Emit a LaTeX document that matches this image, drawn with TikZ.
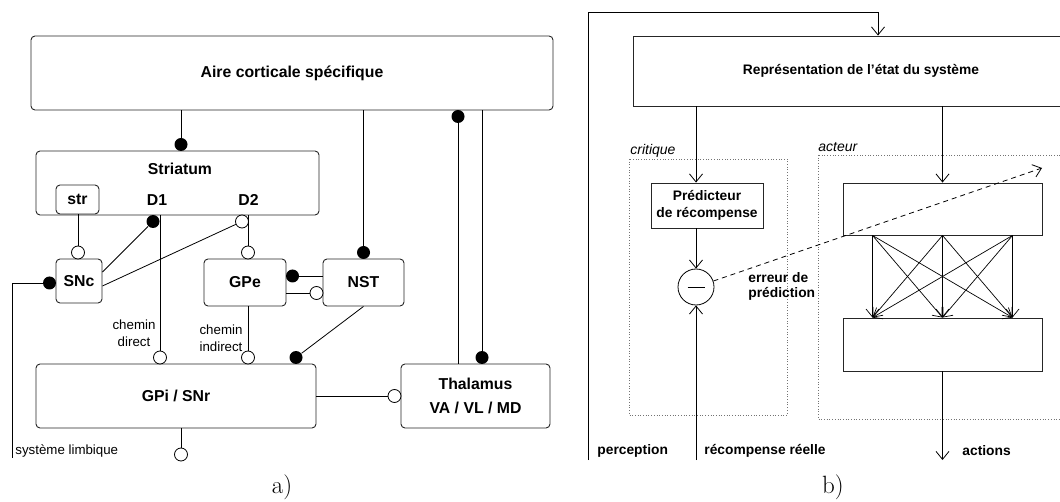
\documentclass[tikz,border=0pt]{standalone}
\usepackage{fontspec}
\setsansfont{Liberation Sans}
\usetikzlibrary{arrows.meta}
\begin{document}
\begin{tikzpicture}[x=1pt,y=-1pt,
  line width=0.8pt,
  rbox/.style={draw=black!85, line width=0.9pt, rounded corners=4pt, inner sep=0pt},
  sbox/.style={draw=black!85, line width=0.9pt, inner sep=0pt},
  fA/.style={font=\sffamily\bfseries\fontsize{15.8}{19}\selectfont},
  fAt/.style={font=\sffamily\bfseries\fontsize{15.8}{24}\selectfont},
  fR/.style={font=\sffamily\fontsize{13.3}{17}\selectfont},
  fB/.style={font=\sffamily\bfseries\fontsize{13.8}{16.5}\selectfont},
  fI/.style={font=\sffamily\itshape\fontsize{14}{16}\selectfont},
  fC/.style={font=\rmfamily\fontsize{25}{28}\selectfont},
  dmk/.style={circle, fill=black, minimum size=13pt, inner sep=0pt},
  omk/.style={circle, draw=black, fill=white, line width=0.8pt, minimum size=13pt, inner sep=0pt},
  arr/.style={-{Straight Barb[length=8pt,width=13pt]}},
  dotbox/.style={draw=black!55, dotted, line width=0.7pt},
]
\useasboundingbox (0,0) rectangle (1060,502);
\clip (0,0) rectangle (1060,502);

% ---------------- panel a ----------------
\node[rbox, fA, minimum width=522pt, minimum height=74pt] (aire) at (292,73) {Aire corticale spécifique};
\node[rbox, minimum width=283pt, minimum height=64pt] (stri) at (177.5,183) {};
\node[fA] (stritxt) at (180,169) {Striatum};
\node[rbox, fA, minimum width=43pt, minimum height=29pt] (str) at (77.5,199.5) {str};
\node[fA] (d1) at (157,200) {D1};
\node[fA] (d2) at (248.5,200) {D2};
\node[rbox, fA, minimum width=46pt, minimum height=44pt] (snc) at (79,281) {SNc};
\node[rbox, fA, minimum width=82pt, minimum height=47pt] (gpe) at (245,282.5) {GPe};
\node[rbox, fA, minimum width=81pt, minimum height=47pt] (nst) at (363.5,282.5) {NST};
\node[rbox, fA, minimum width=280pt, minimum height=64pt] (gpi) at (176,396) {GPi / SNr};
\node[rbox, fAt, align=center, minimum width=149pt, minimum height=64pt] (thal) at (475.5,396) {Thalamus\\VA / VL / MD};

% markers
\node[dmk] (m1) at (181,144.5) {};
\node[omk] (m2) at (78,252.5) {};
\node[dmk] (m3) at (153,221.5) {};
\node[omk] (m4) at (242,221.5) {};
\node[omk] (m5) at (160,357.5) {};
\node[omk] (m6) at (248,252.5) {};
\node[dmk] (m7) at (363.5,252.5) {};
\node[dmk] (m8) at (292.5,276) {};
\node[omk] (m9) at (316.5,293) {};
\node[omk] (m10) at (248,357.5) {};
\node[dmk] (m11) at (296,357.5) {};
\node[dmk] (m12) at (458,116.5) {};
\node[dmk] (m13) at (482,357.5) {};
\node[omk] (m14) at (394.5,396) {};
\node[omk] (m15) at (181,454.5) {};
\node[dmk] (m16) at (49.5,283) {};
\coordinate (limb) at (12,458);

% connectors
\draw (aire.south -| m1) -- (m1);
\draw (str.south -| m2) -- (m2);
\draw ([yshift=9pt]snc.east) -- (m3);
\draw ([yshift=-5pt]snc.east) -- (m4);
\draw (stri.south -| m5) -- (m5);
\draw (stri.south -| m6) -- (m6);
\draw (aire.south -| m7) -- (m7);
\draw (m8) -- (m8 -| nst.west);
\draw (m9 -| gpe.east) -- (m9);
\draw (gpe.south -| m10) -- (m10);
\draw (nst.south) -- (m11);
\draw (m12) -- (m12 |- thal.north);
\draw (aire.south -| m13) -- (m13);
\draw (gpi.east) -- (m14);
\draw (gpi.south -| m15) -- (m15);
\draw (m16) -| (limb);

% labels
\node[fR, align=center] (chd) at (134,333) {chemin\\direct};
\node[fR, align=center] (chi) at (221,338) {chemin\\indirect};
\node[fR, anchor=west, inner sep=0pt] (lim) at (15,451) {système limbique};
\node[fC] (capa) at (282,487) {a)};

% ---------------- panel b ----------------
\node[sbox, fB, minimum width=456pt, minimum height=70pt] (rep) at (861,71) {Représentation de l’état du système};
\draw[dotbox] (629,159) rectangle (787,415);
\draw[dotbox] (818,155) rectangle (1080,419);
\node[fI, anchor=west, inner sep=0pt] (crit) at (630,151) {critique};
\node[fI, anchor=west, inner sep=0pt] (act) at (818,147) {acteur};
\node[sbox, fB, align=center, minimum width=112pt, minimum height=45pt] (pred) at (707,205.5) {Prédicteur\\de récompense};
\node[circle, draw=black, line width=0.8pt, minimum size=36pt, inner sep=0pt] (circ) at (696,287) {};
\draw ([xshift=-8.5pt]circ.center) -- ([xshift=8.5pt]circ.center);
\node[sbox, minimum width=199pt, minimum height=52pt] (act1) at (942.5,209) {};
\node[sbox, minimum width=199pt, minimum height=53pt] (act2) at (942.5,344.5) {};

\coordinate (p0) at (588,460);
\coordinate (fb) at (878,12);
\coordinate (rew) at (696,460);
\coordinate (aend) at (942.5,460);
\coordinate (dend) at (1042,168);

\draw[arr] (p0) |- (fb) -- (fb |- rep.north);
\draw[arr] (rep.south -| circ) -- (pred.north -| circ);
\draw[arr] (pred.south -| circ) -- (circ.north);
\draw[arr] (rew) -- (circ.south);
\draw[arr] (rep.south -| act1) -- (act1.north);
\foreach \a in {-70,0,70} {
  \foreach \b in {-70,0,70} {
    \draw[arr, line width=0.7pt] ([xshift=\a pt]act1.south) -- ([xshift=\b pt]act2.north);
  }
}
\draw[arr] (act2.south) -- (aend);
\draw[arr, dash pattern=on 5pt off 4pt] (circ) -- (dend);

\node[fB, anchor=west, inner sep=0pt] (err) at (748,286.5) {\begin{tabular}{@{}l@{}}erreur de\\[-2pt]prédiction\end{tabular}};
\node[fB, anchor=west, inner sep=0pt] (perc) at (597,451) {perception};
\node[fB, anchor=west, inner sep=0pt] (recr) at (704,451) {récompense réelle};
\node[fB, anchor=west, inner sep=0pt] (acts) at (962,451) {actions};
\node[fC] (capb) at (833,487) {b)};
\end{tikzpicture}
\end{document}
